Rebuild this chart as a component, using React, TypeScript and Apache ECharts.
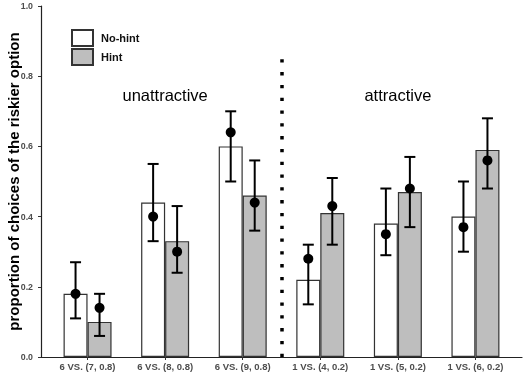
import React, { useEffect, useRef } from "react";
import * as echarts from "echarts";

const categories = [
  "6 VS. (7, 0.8)",
  "6 VS. (8, 0.8)",
  "6 VS. (9, 0.8)",
  "1 VS. (4, 0.2)",
  "1 VS. (5, 0.2)",
  "1 VS. (6, 0.2)",
];
const positions = [1, 2, 3, 4, 5, 6];

const noHintBar = [0.18, 0.44, 0.6, 0.22, 0.38, 0.4];
const hintBar = [0.1, 0.33, 0.46, 0.41, 0.47, 0.59];

const noHintPoint = [0.18, 0.4, 0.64, 0.28, 0.35, 0.37];
const hintPoint = [0.14, 0.3, 0.44, 0.43, 0.48, 0.56];

const noHintLow = [0.11, 0.33, 0.5, 0.15, 0.29, 0.3];
const noHintHigh = [0.27, 0.55, 0.7, 0.32, 0.48, 0.5];
const hintLow = [0.06, 0.24, 0.36, 0.32, 0.37, 0.48];
const hintHigh = [0.18, 0.43, 0.56, 0.51, 0.57, 0.68];

const yTicks = [0, 0.2, 0.4, 0.6, 0.8, 1.0];

const groupLabels = [
  { x: 2, y: 0.747, text: "unattractive" },
  { x: 5, y: 0.747, text: "attractive" },
];
const dividerX = 3.5;
const dividerTop = 0.85;

const BAR_W = 24;
const FONT = "'Liberation Sans', Arial, Helvetica, sans-serif";

export default function App() {
  const ref = useRef<HTMLDivElement>(null);

  useEffect(() => {
    if (!ref.current) return;
    const chart = echarts.init(ref.current, undefined, { renderer: "svg" });

    const errData: number[][] = [];
    positions.forEach((p, i) => {
      errData.push([p, noHintLow[i], noHintHigh[i], -1]);
      errData.push([p, hintLow[i], hintHigh[i], 1]);
    });

    chart.setOption({
      animation: false,
      textStyle: { fontFamily: FONT },
      grid: {
        left: 41,
        right: 5,
        top: 6,
        bottom: 20,
        containLabel: false,
        outerBoundsMode: "none",
      },
      legend: {
        data: ["No-hint", "Hint"],
        orient: "vertical",
        left: 71,
        top: 29,
        padding: 0,
        itemWidth: 21,
        itemHeight: 16,
        itemGap: 1,
        icon: "rect",
        textStyle: {
          fontSize: 11,
          fontWeight: "bold",
          color: "#111",
          padding: [0, 0, 0, 3],
          fontFamily: FONT,
        },
      },
      xAxis: {
        type: "value",
        min: 0.4,
        max: 6.6,
        splitLine: { show: false },
        axisLine: { show: true, lineStyle: { color: "#222", width: 1.2 } },
        axisTick: {
          show: true,
          customValues: positions,
          length: 3,
          lineStyle: { color: "#333" },
        },
        axisLabel: {
          customValues: positions,
          formatter: (v: number) => categories[Math.round(v) - 1] || "",
          margin: 4,
          fontSize: 9.5,
          fontWeight: "bold",
          color: "#4d4d4d",
          fontFamily: FONT,
        },
      },
      yAxis: {
        type: "value",
        min: 0,
        max: 1,
        interval: 0.2,
        splitLine: { show: false },
        name: "proportion of choices of the riskier option",
        nameLocation: "middle",
        nameGap: 20,
        nameMoveOverlap: false,
        nameTextStyle: {
          fontSize: 15,
          fontWeight: "bold",
          color: "#000",
          fontFamily: FONT,
        },
        axisLine: { show: true, lineStyle: { color: "#222", width: 1.2 } },
        axisTick: { show: true, length: 3, lineStyle: { color: "#333" } },
        axisLabel: {
          formatter: (v: number) =>
            yTicks.some((t) => Math.abs(t - v) < 1e-9) ? v.toFixed(1) : "",
          margin: 8,
          fontSize: 8.8,
          fontWeight: "bold",
          color: "#4d4d4d",
          fontFamily: FONT,
        },
      },
      series: [
        {
          name: "No-hint",
          type: "bar",
          barWidth: BAR_W,
          barGap: "0%",
          z: 2,
          itemStyle: { color: "#ffffff", borderColor: "#333", borderWidth: 1.2 },
          data: positions.map((p, i) => [p, noHintBar[i]]),
        },
        {
          name: "Hint",
          type: "bar",
          barWidth: BAR_W,
          barGap: "0%",
          z: 2,
          itemStyle: { color: "#bebebe", borderColor: "#333", borderWidth: 1.2 },
          data: positions.map((p, i) => [p, hintBar[i]]),
        },
        {
          name: "errors",
          type: "custom",
          z: 3,
          clip: false,
          encode: { x: 0, y: [1, 2] },
          data: errData,
          renderItem: (params: any, api: any) => {
            const x = api.value(0);
            const lo = api.coord([x, api.value(1)]);
            const hi = api.coord([x, api.value(2)]);
            const side = api.value(3);
            const px = lo[0] + (side * BAR_W) / 2;
            const cap = 5.5;
            const style = { stroke: "#000", lineWidth: 2, fill: "none" };
            return {
              type: "group",
              children: [
                { type: "line", shape: { x1: px, y1: lo[1], x2: px, y2: hi[1] }, style },
                { type: "line", shape: { x1: px - cap, y1: lo[1], x2: px + cap, y2: lo[1] }, style },
                { type: "line", shape: { x1: px - cap, y1: hi[1], x2: px + cap, y2: hi[1] }, style },
              ],
            };
          },
        },
        {
          name: "No-hint mean",
          type: "scatter",
          z: 4,
          symbol: "circle",
          symbolSize: 10,
          symbolOffset: [-BAR_W / 2, 0],
          itemStyle: { color: "#000", opacity: 1 },
          data: positions.map((p, i) => [p, noHintPoint[i]]),
        },
        {
          name: "Hint mean",
          type: "scatter",
          z: 4,
          symbol: "circle",
          symbolSize: 10,
          symbolOffset: [BAR_W / 2, 0],
          itemStyle: { color: "#000", opacity: 1 },
          data: positions.map((p, i) => [p, hintPoint[i]]),
        },
        {
          name: "group labels",
          type: "scatter",
          z: 5,
          symbolSize: 0,
          silent: true,
          itemStyle: { opacity: 1 },
          data: groupLabels.map((g) => [g.x, g.y, g.text]),
          label: {
            show: true,
            position: "inside",
            formatter: (p: any) => p.value[2],
            fontSize: 16.5,
            color: "#000",
            textBorderWidth: 0,
            fontFamily: FONT,
          },
          markLine: {
            silent: true,
            symbol: ["none", "none"],
            label: { show: false },
            lineStyle: {
              type: [3.3, 9.5],
              width: 3.5,
              color: "#000",
              cap: "butt",
              opacity: 1,
            },
            data: [
              [
                { coord: [dividerX, 0] },
                { coord: [dividerX, dividerTop] },
              ],
            ],
          },
        },
      ],
    });

    return () => chart.dispose();
  }, []);

  return (
    <div
      ref={ref}
      style={{ position: "fixed", left: 0, top: 0, width: 527, height: 377 }}
    />
  );
}
